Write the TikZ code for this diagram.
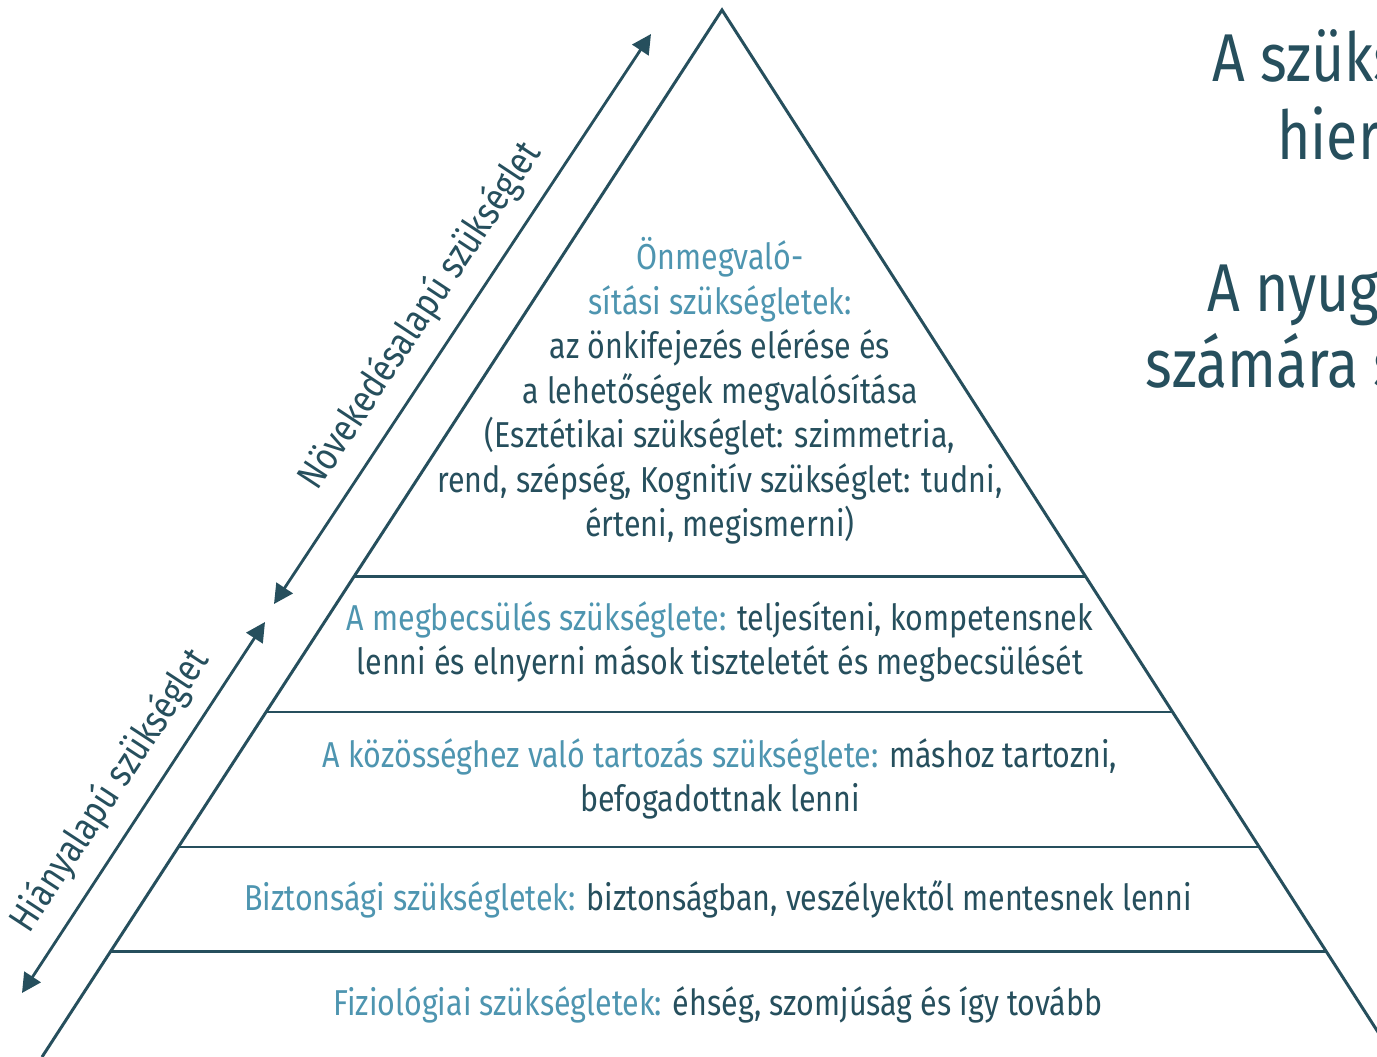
\documentclass[tikz,border=0pt]{standalone}
\usepackage{fontspec}
\setmainfont{Fira Sans}[FakeStretch=0.845]
\usetikzlibrary{arrows.meta,calc}

\definecolor{pyrdark}{HTML}{264F5D}
\definecolor{pyrlight}{HTML}{4E95B0}
\newcommand{\hl}[1]{\textcolor{pyrlight}{#1}}

\tikzset{
  level/.style={align=center, text=pyrdark, inner sep=0pt, font=\fontsize{20.5}{25.3}\selectfont},
  side/.style={text=pyrdark, inner sep=0pt, font=\fontsize{22}{25}\selectfont},
  title/.style={anchor=base west, text=pyrdark, inner sep=0pt, font=\fontsize{38.5}{44}\selectfont},
  dblarrow/.style={{Triangle[length=11pt,width=11pt]}-{Triangle[length=11pt,width=11pt]}, line width=1.6pt, draw=pyrdark},
}

\begin{document}
\begin{tikzpicture}[x=0.02cm, y=-0.02cm]
	\useasboundingbox (0,0) rectangle (1377,1057);
	\clip (0,0) rectangle (1377,1057);

	% pyramid
	\coordinate (apex) at (722,10);
	\coordinate (bl) at (42,1057);
	\coordinate (br) at (1394,1057);
	\draw[pyrdark, line width=1.7pt, line join=miter] (bl) -- (apex) -- (br);
	\foreach \y in {577,712,847,952}
		\draw[pyrdark, line width=1.7pt] ($(apex)!{(\y-10)/1047}!(bl)$) -- ($(apex)!{(\y-10)/1047}!(br)$);

	% levels, top to bottom
	\node[level] (self) at (720,391) {\hl{Önmegvaló-}\\
		\hl{sítási szükségletek:}\\
		az önkifejezés elérése és\\
		a lehetőségek megvalósítása\\
		(Esztétikai szükséglet: szimmetria,\\
		rend, szépség, Kognitív szükséglet: tudni,\\
		érteni, megismerni)};
	\node[level] (esteem) at (720,642) {\hl{A megbecsülés szükséglete:} teljesíteni, kompetensnek\\
		lenni és elnyerni mások tiszteletét és megbecsülését};
	\node[level] (belong) at (720,779) {\hl{A közösséghez való tartozás szükséglete:} máshoz tartozni,\\
		befogadottnak lenni};
	\node[level] (safety) at (718,899) {\hl{Biztonsági szükségletek:} biztonságban, veszélyektől mentesnek lenni};
	\node[level] (physio) at (718,1005) {\hl{Fiziológiai szükségletek:} éhség, szomjúság és így tovább};

	% growth and deficiency arrows
	\coordinate (gtop) at (651,34);
	\coordinate (gbot) at (274,604);
	\coordinate (dtop) at (265,622);
	\coordinate (dbot) at (22,993);
	\draw[dblarrow] (gbot) -- (gtop) node[side, pos=0.47, sloped, above=9pt] (growth) {Növekedésalapú szükséglet};
	\draw[dblarrow] (dbot) -- (dtop) node[side, pos=0.49, sloped, above=9pt] (deficit) {Hiányalapú szükséglet};

	% heading on the right
	\node[title] (head1) at (1212,82) {A szüks};
	\node[title] (head2) at (1277,160) {hiera};
	\node[title] (head3) at (1207,312) {A nyuga};
	\node[title] (head4) at (1145,388) {számára sü};
\end{tikzpicture}
\end{document}
